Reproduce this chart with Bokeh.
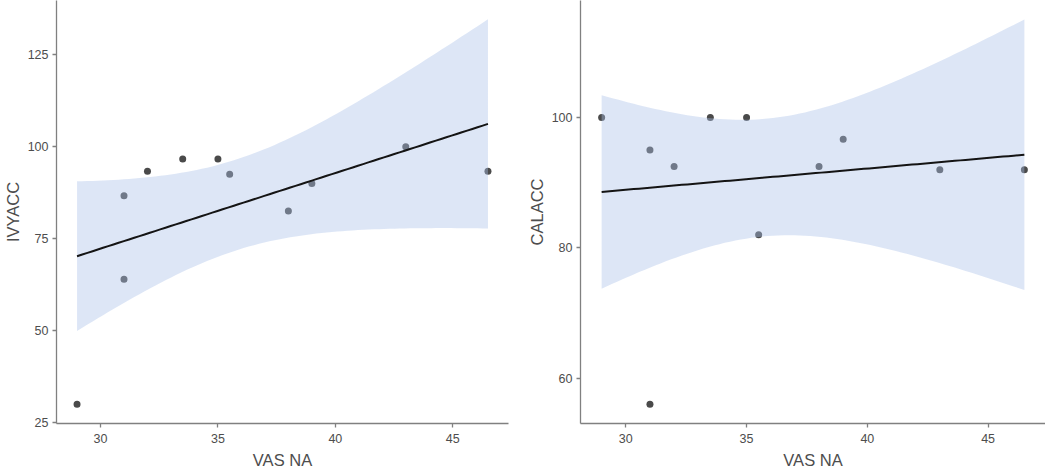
import numpy as np
from bokeh.plotting import figure
from bokeh.layouts import row
from bokeh.models import Range1d, FixedTicker, ColumnDataSource
from bokeh.embed import file_html
from bokeh.resources import INLINE

# ---- data ----
vas_na = [29, 31, 31, 32, 33.5, 35, 35.5, 38, 39, 43, 46.5]
ivyacc = [30, 86.67, 64, 93.33, 96.67, 96.67, 92.5, 82.5, 90, 100, 93.33]
calacc = [100, 95, 56, 92.5, 100, 100, 82, 92.5, 96.67, 92, 92]

x_ticks = [30, 35, 40, 45]
ivy_ticks = [25, 50, 75, 100, 125]
cal_ticks = [60, 80, 100]

T_CRIT = 2.262  # t(0.975, df=9)

FONT = "Liberation Sans"
POINT_COLOR = "#4a4a4a"
RIBBON_COLOR = (170, 193, 232)
AXIS_COLOR = "#808080"
TEXT_COLOR = "#4d4d4d"


def lm_band(x, y, n_pts=80):
    x = np.asarray(x, float)
    y = np.asarray(y, float)
    n = len(x)
    slope, intercept = np.polyfit(x, y, 1)
    resid = y - (slope * x + intercept)
    s = np.sqrt(np.sum(resid ** 2) / (n - 2))
    xm = x.mean()
    sxx = np.sum((x - xm) ** 2)
    xs = np.linspace(x.min(), x.max(), n_pts)
    fit = slope * xs + intercept
    se = s * np.sqrt(1.0 / n + (xs - xm) ** 2 / sxx)
    return xs, fit, fit - T_CRIT * se, fit + T_CRIT * se


def make_panel(x, y, ylabel, yticks, yrange, frame_w, border_left, border_right):
    p = figure(frame_width=frame_w, frame_height=423, output_backend="svg",
               toolbar_location=None,
               x_range=Range1d(28.125, 47.375), y_range=Range1d(*yrange),
               min_border_left=border_left, min_border_right=border_right,
               min_border_top=0, min_border_bottom=44)
    p.outline_line_color = None
    p.grid.visible = False
    p.background_fill_color = "white"
    p.border_fill_color = "white"

    src = ColumnDataSource(dict(x=x, y=y))
    p.scatter("x", "y", source=src, size=7, fill_color=POINT_COLOR, line_color=None)

    xs, fit, lo, hi = lm_band(x, y)
    band = ColumnDataSource(dict(x=xs, fit=fit, lo=lo, hi=hi))
    p.varea(x="x", y1="lo", y2="hi", source=band, fill_color=RIBBON_COLOR, fill_alpha=0.4)
    p.line("x", "fit", source=band, line_color="#141414", line_width=2)

    p.xaxis.ticker = FixedTicker(ticks=x_ticks)
    p.yaxis.ticker = FixedTicker(ticks=yticks)
    p.xaxis.axis_label = "VAS NA"
    p.yaxis.axis_label = ylabel
    for ax in (p.xaxis, p.yaxis):
        ax.axis_line_color = AXIS_COLOR
        ax.axis_line_width = 1.3
        ax.major_tick_line_color = AXIS_COLOR
        ax.major_tick_line_width = 1.3
        ax.major_tick_out = 4
        ax.major_tick_in = 0
        ax.minor_tick_line_color = None
        ax.major_label_text_font = FONT
        ax.major_label_text_font_size = "12.5px"
        ax.major_label_text_color = TEXT_COLOR
        ax.axis_label_text_font = FONT
        ax.axis_label_text_font_size = "16.5px"
        ax.axis_label_text_font_style = "normal"
        ax.axis_label_text_color = TEXT_COLOR
    p.xaxis.major_label_standoff = 6
    p.xaxis.axis_label_standoff = 5
    p.yaxis.major_label_standoff = 4
    p.yaxis.axis_label_standoff = 3
    return p


p1 = make_panel(vas_na, ivyacc, "IVYACC", ivy_ticks, (24.8, 139.7), 452, 48, 12)
p2 = make_panel(vas_na, calacc, "CALACC", cal_ticks, (53.05, 117.95), 465, 60, 0)

layout = row(p1, p2)
open("out.html", "w").write(file_html(layout, INLINE))
